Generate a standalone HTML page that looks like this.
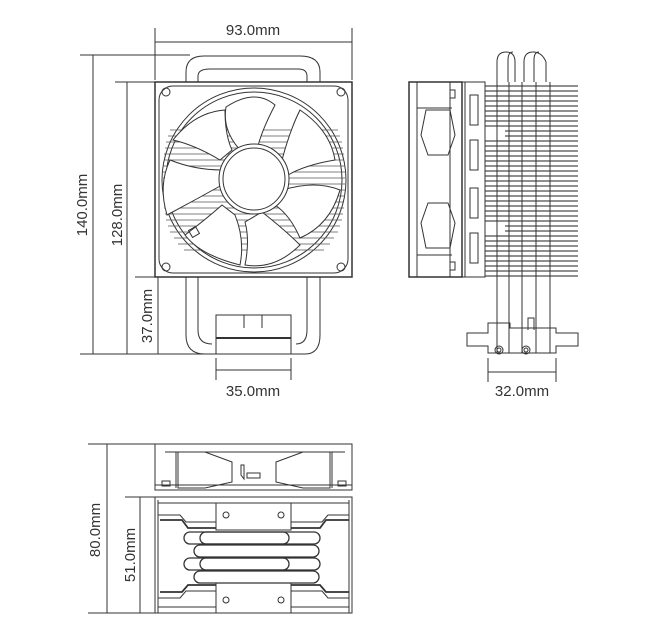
<!DOCTYPE html>
<html><head><style>
html,body{margin:0;padding:0;background:#fff;}
svg{display:block;}
text{font-family:"Liberation Sans",sans-serif;font-size:15px;fill:#333;}
</style></head><body>
<svg width="669" height="637" viewBox="0 0 669 637" xmlns="http://www.w3.org/2000/svg" fill="none" stroke="#333" stroke-width="1">
<line x1="155" y1="28" x2="155" y2="80"/><line x1="352" y1="28" x2="352" y2="80"/>
<line x1="155" y1="42" x2="352" y2="42"/>
<text x="253" y="35" text-anchor="middle" stroke="none">93.0mm</text>
<line x1="80" y1="55" x2="190" y2="55"/><line x1="80" y1="354" x2="305" y2="354"/>
<line x1="93" y1="55" x2="93" y2="354"/>
<text transform="translate(87,205) rotate(-90)" text-anchor="middle" stroke="none">140.0mm</text>
<line x1="115" y1="82" x2="155" y2="82"/><line x1="127" y1="82" x2="127" y2="354"/>
<text transform="translate(122,215) rotate(-90)" text-anchor="middle" stroke="none">128.0mm</text>
<line x1="135" y1="277" x2="155" y2="277"/><line x1="158" y1="277" x2="158" y2="354"/>
<text transform="translate(152,316) rotate(-90)" text-anchor="middle" stroke="none">37.0mm</text>
<line x1="216" y1="358" x2="216" y2="380"/><line x1="291" y1="358" x2="291" y2="380"/>
<line x1="216" y1="370" x2="291" y2="370"/>
<text x="253" y="396" text-anchor="middle" stroke="none">35.0mm</text>
<path d="M186 82 V72 Q186 56 204 56 H300 Q320 56 320 72 V82"/>
<path d="M198 82 V76 Q198 69 210 69 H298 Q307 69 307 76 V82"/>
<path d="M186 277 V335 Q186 354 205 354 H305 Q320 354 320 335 V277"/>
<path d="M198 277 V330 Q198 344 212 344"/><path d="M307 277 V330 Q307 344 296 344"/>
<rect x="216" y="315" width="75" height="39"/>
<line x1="216" y1="338" x2="291" y2="338" stroke-width="2"/>
<line x1="244" y1="315" x2="244" y2="328"/><line x1="262" y1="315" x2="262" y2="328"/>
<rect x="155" y="82" width="197" height="195" stroke-width="1.5"/>
<rect x="159" y="86" width="189" height="187" rx="14"/>
<circle cx="166" cy="92" r="4"/><circle cx="341" cy="92" r="4"/>
<circle cx="166" cy="267" r="4"/><circle cx="341" cy="267" r="4"/>
<circle cx="254" cy="180" r="92"/><circle cx="254" cy="180" r="88"/>
<g stroke="#555" stroke-width="0.7">
<path d="M170 130 H338 M168 136 H340 M166 142 H342 M165 148 H343 M164 154 H344 M164 160 H344 M163 166 H345 M163 172 H345 M163 178 H345 M163 184 H345 M163 190 H345 M163 196 H345 M164 202 H344 M164 208 H344 M165 214 H343 M166 220 H342 M168 226 H340 M170 232 H338 M174 238 H334 M178 244 H330 M184 250 H324"/>
</g>
<g fill="#fff" stroke="#333">
<path d="M226 107 Q255 88 275 105 Q262 130 258 146 L240 150 Q222 130 226 107Z"/>
<path d="M300 110 Q330 130 335 160 Q305 165 288 175 L282 160 Q290 130 300 110Z"/>
<path d="M340 190 Q330 225 300 238 Q290 215 275 205 L283 190 Q315 180 340 190Z"/>
<path d="M300 245 Q275 270 245 265 Q250 240 245 222 L262 212 Q285 230 300 245Z"/>
<path d="M240 265 Q200 255 185 235 Q205 220 222 205 L235 215 Q245 240 240 265Z"/>
<path d="M167 215 Q158 185 170 160 Q195 170 222 170 L222 185 Q195 200 167 215Z"/>
<path d="M173 140 Q195 112 225 110 Q225 135 232 150 L220 160 Q195 145 173 140Z"/>
</g>
<circle cx="254" cy="179" r="35" fill="#fff"/><circle cx="254" cy="179" r="31"/>
<rect x="190" y="228" width="8" height="8" transform="rotate(-30 194 232)"/>
<path d="M497 82 V62 Q497 52 506 52 Q515 52 515 62 V82"/>
<path d="M508 82 V60 Q508 52 513 52"/>
<path d="M524 82 V62 Q524 52 533 52 Q542 52 546 62 V82"/>
<path d="M534 82 V60 Q534 52 539 52"/>
<rect x="409" y="82" width="53" height="195" stroke-width="1.5"/>
<line x1="417" y1="82" x2="417" y2="277"/><line x1="450" y1="82" x2="450" y2="277"/>
<path d="M426 110 H450 L455 135 L448 155 H428 L421 135Z"/>
<path d="M428 203 H448 L455 223 L450 248 H426 L421 223Z"/>
<line x1="417" y1="108" x2="452" y2="108"/><line x1="417" y1="255" x2="452" y2="255"/>
<rect x="450" y="90" width="5" height="8"/><rect x="450" y="262" width="5" height="8"/>
<rect x="462" y="82" width="23" height="195"/>
<line x1="465" y1="82" x2="465" y2="277"/>
<rect x="470" y="95" width="8" height="30"/><rect x="470" y="140" width="8" height="30"/>
<rect x="470" y="188" width="8" height="30"/><rect x="470" y="233" width="8" height="30"/>
<g stroke="#222" stroke-width="0.9">
<path d="M485 86 H578 M485 91 H578 M485 96 H578 M485 101 H578 M485 106 H578 M485 111 H578 M485 116 H578 M485 121 H578 M485 126 H578 M505 131 H578 M505 136 H578 M485 141 H578 M485 146 H578 M485 151 H578 M485 156 H578 M485 161 H578 M485 166 H578 M485 171 H578 M485 176 H578 M485 181 H578 M485 186 H578 M485 191 H578 M485 196 H578 M485 201 H578 M485 206 H578 M485 211 H578 M485 216 H578 M485 221 H578 M505 226 H578 M505 231 H578 M485 236 H578 M485 241 H578 M485 246 H578 M485 251 H578 M485 256 H578 M485 261 H578 M485 266 H578 M485 271 H578 M485 276 H578"/>
</g>
<line x1="485" y1="82" x2="485" y2="277"/>
<line x1="497" y1="82" x2="497" y2="277"/><line x1="509" y1="82" x2="509" y2="277"/>
<line x1="522" y1="82" x2="522" y2="277"/><line x1="536" y1="82" x2="536" y2="277"/><line x1="550" y1="82" x2="550" y2="277"/>
<line x1="497" y1="277" x2="497" y2="353"/><line x1="509" y1="277" x2="509" y2="353"/>
<line x1="522" y1="277" x2="522" y2="353"/><line x1="536" y1="277" x2="536" y2="353"/><line x1="550" y1="277" x2="550" y2="353"/>
<path d="M528 330 V318 H534 V330"/>
<path d="M467 333 H488 V323 H510 V328 H556 V333 H578 V346 H556 V353 H488 V346 H467Z"/>
<circle cx="499" cy="350" r="4"/><circle cx="499" cy="350" r="2"/>
<circle cx="526" cy="350" r="4"/><circle cx="526" cy="350" r="2"/>
<line x1="488" y1="358" x2="488" y2="382"/><line x1="556" y1="358" x2="556" y2="382"/>
<line x1="488" y1="372" x2="556" y2="372"/>
<text x="522" y="396" text-anchor="middle" stroke="none">32.0mm</text>
<line x1="88" y1="444" x2="160" y2="444"/><line x1="107" y1="444" x2="107" y2="613"/>
<line x1="88" y1="613" x2="160" y2="613"/>
<text transform="translate(100,530) rotate(-90)" text-anchor="middle" stroke="none">80.0mm</text>
<line x1="125" y1="497" x2="155" y2="497"/><line x1="140" y1="497" x2="140" y2="613"/>
<text transform="translate(135,555) rotate(-90)" text-anchor="middle" stroke="none">51.0mm</text>
<rect x="155" y="444" width="197" height="46"/>
<line x1="165" y1="452" x2="345" y2="452"/><line x1="155" y1="485" x2="352" y2="485"/>
<path d="M178 452 H205 L232 462 V482 L205 488 H178Z"/>
<path d="M330 452 H303 L276 462 V482 L303 488 H330Z"/>
<line x1="176" y1="452" x2="176" y2="488"/><line x1="332" y1="452" x2="332" y2="488"/>
<rect x="162" y="481" width="8" height="5"/><rect x="338" y="481" width="8" height="5"/>
<path d="M241 465 V475 L244 479 V465Z"/><rect x="247" y="473" width="13" height="5"/>
<rect x="155" y="497" width="197" height="116"/>
<line x1="158" y1="503" x2="349" y2="503"/><line x1="158" y1="607" x2="349" y2="607"/>
<path d="M158 515 H180 L186 522 H216 M291 522 H322 L328 515 H349"/>
<path d="M158 598 H180 L186 591 H216 M291 591 H322 L328 598 H349"/>
<path d="M160 520 H182 L188 528 H216 M291 528 H320 L326 520 H349" stroke-width="1.8"/>
<path d="M160 592 H182 L188 585 H216 M291 585 H320 L326 592 H349" stroke-width="1.8"/>
<rect x="216" y="503" width="75" height="27" fill="#fff"/>
<rect x="216" y="583" width="75" height="30" fill="#fff"/>
<circle cx="226" cy="515" r="3"/><circle cx="281" cy="515" r="3"/>
<circle cx="226" cy="600" r="3"/><circle cx="281" cy="600" r="3"/>
<g stroke-width="1.3">
<rect x="184" y="532" width="105" height="12" rx="6"/>
<rect x="200" y="532" width="120" height="12" rx="6"/>
<rect x="194" y="545" width="125" height="12" rx="6"/>
<rect x="184" y="558" width="105" height="12" rx="6"/>
<rect x="200" y="558" width="120" height="12" rx="6"/>
<rect x="194" y="571" width="125" height="12" rx="6"/>
</g>
<path d="M158 500 V613 M349 500 V613"/>
</svg>
</body></html>
